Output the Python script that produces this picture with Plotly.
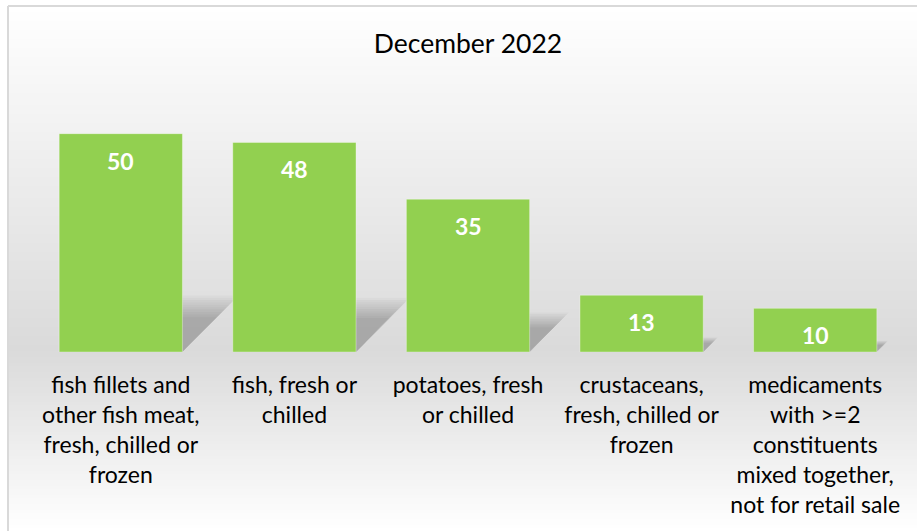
import plotly.graph_objects as go

# ---- data ----
categories = [
    "fish fillets and<br>other fish meat,<br>fresh, chilled or<br>frozen",
    "fish, fresh or<br>chilled",
    "potatoes, fresh<br>or chilled",
    "crustaceans,<br>fresh, chilled or<br>frozen",
    "medicaments<br>with >=2<br>constituents<br>mixed together,<br>not for retail sale",
]
values = [50, 48, 35, 13, 10]
title_text = "December 2022"

W, H = 917, 531
ML, MR, MT, MB = 34, 15, 90, 179
PW = W - ML - MR
PH = H - MT - MB
BAR_W = 0.71
FONT = "Lato, 'Open Sans', sans-serif"

def px_x(px):
    return (px - ML) / PW

def px_y(py):
    return (H - MB - py) / PH

positions = list(range(len(values)))

fig = go.Figure()
fig.add_trace(go.Bar(
    x=positions, y=values, width=BAR_W,
    marker=dict(color="#92D050", line=dict(color="rgba(255,255,255,0.35)", width=1)),
    hoverinfo="skip",
))

shapes = []
# background gradient bands (chart frame from x=8, y=6)
step = 3
y = 6
while y < H:
    y2 = min(y + step, H)
    mid = (y + y2) / 2
    base = 350
    if mid <= base:
        g = 255 - (mid - 6) * (255 - 218) / (base - 6)
    else:
        g = 218 + (mid - base) * (255 - 218) / (H - base)
    g = int(round(g))
    shapes.append(dict(type="rect", xref="paper", yref="paper",
                       x0=px_x(8), x1=px_x(W + 5), y0=px_y(y2), y1=px_y(y),
                       fillcolor=f"rgb({g},{g},{g})", line=dict(width=0), layer="below"))
    y = y2
# frame lines
shapes.append(dict(type="line", xref="paper", yref="paper", x0=px_x(8), x1=px_x(8),
                   y0=px_y(6), y1=px_y(H + 5), line=dict(color="#d9d9d9", width=2), layer="below"))
shapes.append(dict(type="line", xref="paper", yref="paper", x0=px_x(8), x1=px_x(W + 5),
                   y0=px_y(6), y1=px_y(6), line=dict(color="#d9d9d9", width=2), layer="below"))

# soft perspective shadows derived from bar values
n_layers = 10
for i, v in enumerate(values):
    for j in range(n_layers):
        k = 1.08 - 0.045 * j
        h = 0.24 * v * k
        s = 0.0060 * v * k
        x0 = i - BAR_W / 2
        x1 = i + BAR_W / 2
        path = f"M {x0},0 L {x1},0 L {x1 + s},{h} L {x0 + s},{h} Z"
        shapes.append(dict(type="path", xref="x", yref="y", path=path,
                           fillcolor="rgba(0,0,0,0.022)", line=dict(width=0), layer="below"))

annotations = []
for i, v in enumerate(values):
    annotations.append(dict(x=i, y=v, xref="x", yref="y", text=f"<b>{v}</b>",
                            showarrow=False, yanchor="top", yshift=-11,
                            font=dict(family=FONT, size=23, color="white")))

fig.update_layout(
    width=W, height=H,
    margin=dict(l=ML, r=MR, t=MT, b=MB),
    paper_bgcolor="white", plot_bgcolor="rgba(0,0,0,0)",
    showlegend=False,
    title=dict(text=title_text, x=0.5, xref="paper", xanchor="center",
               y=1 - 44 / H, yanchor="middle",
               font=dict(family=FONT, size=26.5, color="black")),
    xaxis=dict(tickvals=positions, ticktext=categories, range=[-0.5, len(values) - 0.5],
               showgrid=False, zeroline=False, showline=False, ticks="",
               ticklabelstandoff=17,
               tickfont=dict(family=FONT, size=23, color="black"), fixedrange=True),
    yaxis=dict(range=[0, 60], visible=False, fixedrange=True),
    shapes=shapes,
    annotations=annotations,
    bargap=0.29,
)

fig.write_html("out.html", config={"displayModeBar": False},
               post_script="document.body.style.margin='0';document.body.style.overflow='hidden';")
